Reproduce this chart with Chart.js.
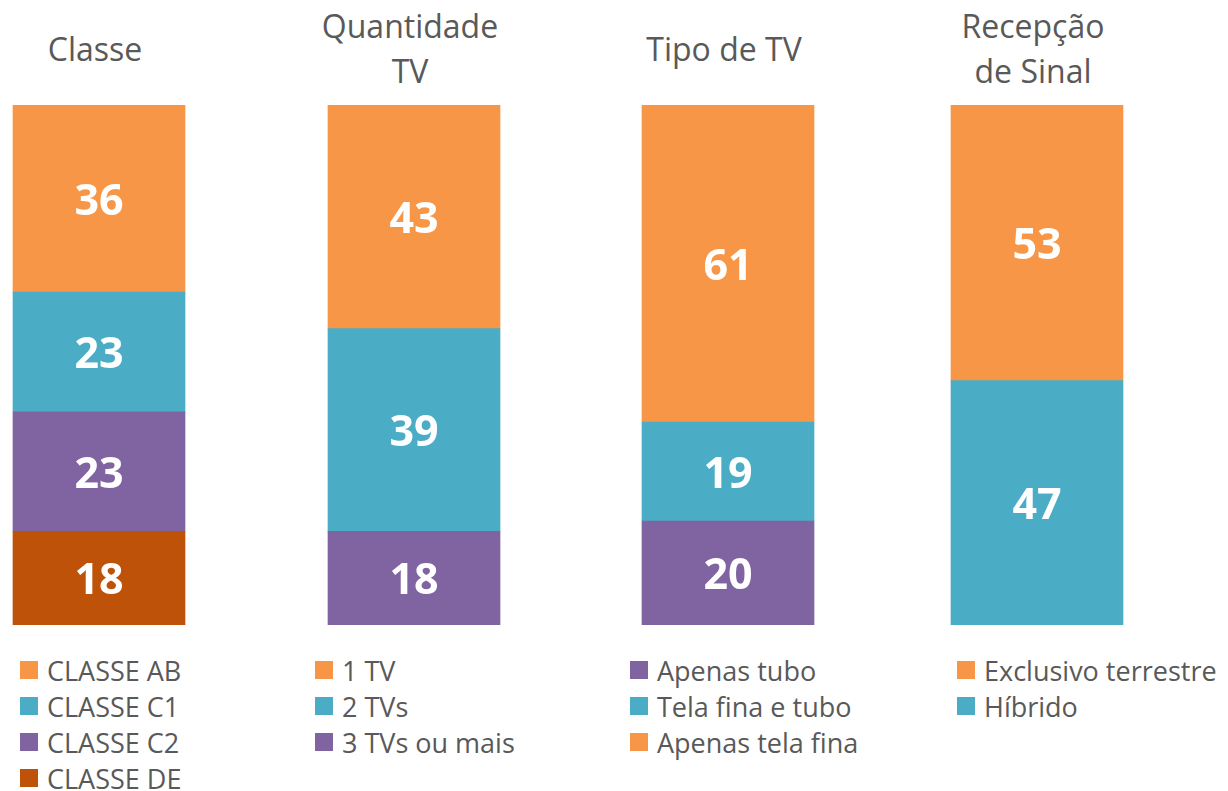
<!DOCTYPE html>
<html>
<head>
<meta charset="utf-8">
<script src="https://cdn.jsdelivr.net/npm/chart.js@4"></script>
<style>
  body { margin: 0; background: #fff; width: 1228px; height: 791px; overflow: hidden; position: relative; font-family: 'Open Sans', sans-serif; }
  .box { position: absolute; top: 0; width: 300px; height: 625px; }
  .title { position: absolute; width: 300px; text-align: center; color: #595959; font-size: 32px; line-height: 45px; }
  .legend { position: absolute; top: 652px; color: #595959; font-size: 27px; }
  .legend .row { display: flex; align-items: center; height: 36px; white-space: nowrap; }
  .legend .sw { width: 18px; height: 18px; margin-right: 9px; flex: none; }
</style>
</head>
<body>
<script>
// chart data (legend order)
const classeLabels = ['CLASSE AB', 'CLASSE C1', 'CLASSE C2', 'CLASSE DE'];
const classeValues = [36, 23, 23, 18];
const quantidadeLabels = ['1 TV', '2 TVs', '3 TVs ou mais'];
const quantidadeValues = [43, 39, 18];
const tipoLabels = ['Apenas tubo', 'Tela fina e tubo', 'Apenas tela fina'];
const tipoValues = [20, 19, 61];
const recepcaoLabels = ['Exclusivo terrestre', 'Híbrido'];
const recepcaoValues = [53, 47];

const ORANGE = '#F79646', TEAL = '#4BACC6', PURPLE = '#8064A2', RUST = '#BE5209';

// white bold value in the middle of every segment
const valueLabels = {
    id: 'valueLabels',
    afterDatasetsDraw(chart) {
        const ctx = chart.ctx;
        ctx.save();
        ctx.fillStyle = '#ffffff';
        ctx.font = "bold 43px 'Open Sans', sans-serif";
        ctx.textAlign = 'center';
        ctx.textBaseline = 'middle';
        chart.data.datasets.forEach(function (ds, i) {
            chart.getDatasetMeta(i).data.forEach(function (bar, j) {
                const p = bar.getCenterPoint();
                ctx.fillText(ds.data[j], p.x, p.y + 4);
            });
        });
        ctx.restore();
    }
};

function makePanel(center, title, titleTop, labels, values, colors, topFirst, legendX) {
    // title
    const t = document.createElement('div');
    t.className = 'title';
    t.style.left = (center - 154) + 'px';
    t.style.top = titleTop + 'px';
    t.innerHTML = title;
    document.body.appendChild(t);

    // chart
    const box = document.createElement('div');
    box.className = 'box';
    box.style.left = (center - 150) + 'px';
    const canvas = document.createElement('canvas');
    box.appendChild(canvas);
    document.body.appendChild(box);

    let datasets = labels.map(function (lab, i) {
        return { label: lab, data: [values[i]], backgroundColor: colors[i], barThickness: 172 };
    });
    if (topFirst) datasets = datasets.reverse();

    new Chart(canvas, {
        type: 'bar',
        data: { labels: [title], datasets: datasets },
        options: {
            responsive: true,
            maintainAspectRatio: false,
            animation: false,
            layout: { padding: { top: 105, bottom: 0, left: 0, right: 0 } },
            plugins: { legend: { display: false }, tooltip: { enabled: false } },
            scales: {
                x: { stacked: true, display: false },
                y: { stacked: true, display: false, min: 0, max: 100 }
            }
        },
        plugins: [valueLabels]
    });

    // legend
    const lg = document.createElement('div');
    lg.className = 'legend';
    lg.style.left = legendX + 'px';
    labels.forEach(function (lab, i) {
        const row = document.createElement('div');
        row.className = 'row';
        row.innerHTML = '<span class="sw" style="background:' + colors[i] + '"></span><span>' + lab + '</span>';
        lg.appendChild(row);
    });
    document.body.appendChild(lg);
}

makePanel(99, 'Classe', 26, classeLabels, classeValues, [ORANGE, TEAL, PURPLE, RUST], true, 20);
makePanel(414, 'Quantidade<br>TV', 3, quantidadeLabels, quantidadeValues, [ORANGE, TEAL, PURPLE], true, 315);
makePanel(728, 'Tipo de TV', 26, tipoLabels, tipoValues, [PURPLE, TEAL, ORANGE], false, 630);
makePanel(1037, 'Recepção<br>de Sinal', 3, recepcaoLabels, recepcaoValues, [ORANGE, TEAL], true, 957);
</script>
</body>
</html>
